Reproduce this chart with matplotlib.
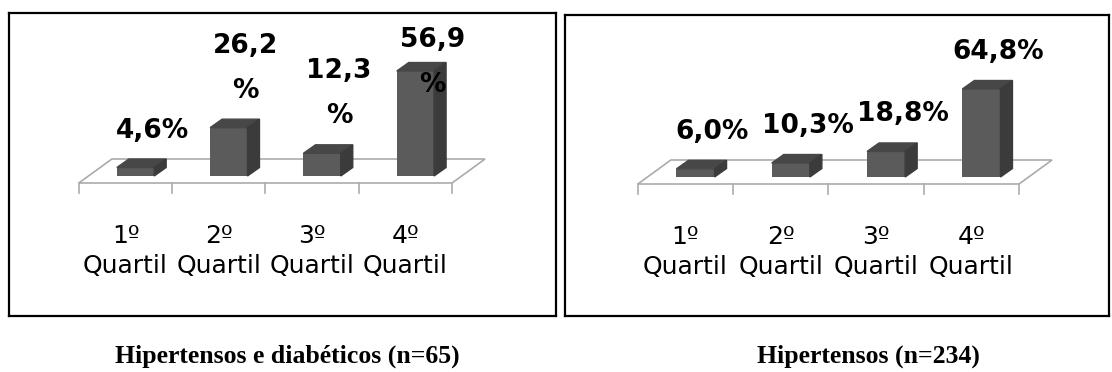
import matplotlib
matplotlib.use("Agg")
import matplotlib.pyplot as plt
from matplotlib.patches import Polygon
import numpy as np

W, H = 1112, 372

quartis = ["1º\nQuartil", "2º\nQuartil", "3º\nQuartil", "4º\nQuartil"]
pct_hd = [4.6, 26.2, 12.3, 56.9]      # hipertensos e diabéticos
pct_h = [6.0, 10.3, 18.8, 64.8]       # hipertensos
wrap_hd = [False, True, True, True]   # rótulos que quebram linha antes do %
wrap_h = [False, False, False, False]
titulos = ["Hipertensos e diabéticos (n=65)", "Hipertensos (n=234)"]

FRONT, TOP, SIDE = "#5b5b5b", "#474747", "#3b3b3b"
FLOOR = "#ababab"
YMAX = 70
DEPTH = (12, 8.5)          # profundidade da barra (px)
FLOOR_FRONT = (-10, -7)    # borda frontal do piso em relação à base das barras
FLOOR_BACK = (23, 17)
LINE_PX = 45               # distância entre linhas dos rótulos quebrados

fig = plt.figure(figsize=(W / 100, H / 100), dpi=100)


def px_axes(x, y_top, w, h):
    # retângulo em pixels da imagem (origem no canto superior esquerdo)
    return fig.add_axes([x / W, (H - y_top - h) / H, w / W, h / H])


def painel(box, x0, y0, step, ppp, valores, wrap, titulo, tx):
    frame = px_axes(*box)
    frame.set_xticks([]); frame.set_yticks([])
    for s in frame.spines.values():
        s.set_linewidth(1.6); s.set_color("black")

    ax = px_axes(x0 - step / 2, y0 - YMAX * ppp, 4 * step, YMAX * ppp)
    ax.set_xlim(-0.5, 3.5); ax.set_ylim(0, YMAX)
    ax.axis("off")

    def shift(xy, dx, dy):
        d = ax.transData.transform(xy) + np.array([dx, dy])
        return ax.transData.inverted().transform(d)

    # piso em perspectiva
    fl, fr = shift((-0.5, 0), *FLOOR_FRONT), shift((3.5, 0), *FLOOR_FRONT)
    bl, br = shift((-0.5, 0), *FLOOR_BACK), shift((3.5, 0), *FLOOR_BACK)
    ax.add_patch(Polygon([fl, fr, br, bl], closed=True, facecolor="white",
                         edgecolor=FLOOR, lw=1.2, clip_on=False, zorder=1))
    for b in np.arange(-0.5, 4, 1.0):
        p = shift((b, 0), *FLOOR_FRONT)
        q = shift((b, 0), FLOOR_FRONT[0], FLOOR_FRONT[1] - 10)
        ax.plot([p[0], q[0]], [p[1], q[1]], color=FLOOR, lw=1.2,
                clip_on=False, zorder=1)

    idx = np.arange(len(valores))
    ax.bar(idx, valores, width=0.4, color=FRONT, zorder=3, clip_on=False)
    for i, v in zip(idx, valores):
        l, r = i - 0.2, i + 0.2
        topo = [(l, v), (r, v), shift((r, v), *DEPTH), shift((l, v), *DEPTH)]
        lado = [(r, 0), (r, v), shift((r, v), *DEPTH), shift((r, 0), *DEPTH)]
        ax.add_patch(Polygon(topo, closed=True, color=TOP, zorder=3, clip_on=False))
        ax.add_patch(Polygon(lado, closed=True, color=SIDE, zorder=3, clip_on=False))

    # rótulos de dados (limitados ao topo da área do gráfico)
    for i, v, w in zip(idx, valores, wrap):
        txt = f"{v:.1f}".replace(".", ",") + ("\n%" if w else "%")
        n = txt.count("\n") + 1
        bx, by = ax.transData.transform((i, v))
        base = min(by + 30, (H - 28) - LINE_PX * (n - 1) - 19)
        x, y = ax.transData.inverted().transform((bx + 17, base))
        ax.text(x, y, txt, ha="center", va="baseline", ma="center",
                fontsize=19, fontweight="bold", family="DejaVu Sans",
                linespacing=1.95, zorder=5, clip_on=False)

    # rótulos das categorias
    for i, lab in zip(idx, quartis):
        x, y = shift((i, 0), FLOOR_FRONT[0], -97)
        ax.text(x, y, lab, ha="center", va="baseline", ma="center",
                fontsize=18, family="DejaVu Sans", linespacing=1.3,
                clip_on=False)

    fig.text(tx / W, (H - 363) / H, titulo, ha="center", va="baseline",
             fontsize=18.5, fontweight="bold", family="Liberation Serif")


painel((9, 13, 547, 303), 135.5, 176, 93.3, 1.845, pct_hd, wrap_hd, titulos[0], 287.5)
painel((565, 15, 544, 301), 695.5, 177, 95.3, 1.358, pct_h, wrap_h, titulos[1], 868.5)

fig.savefig("out.png", dpi=100)
